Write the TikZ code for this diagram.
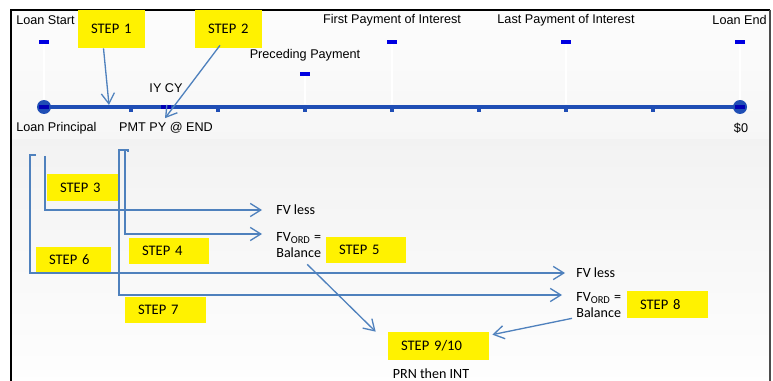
\documentclass[tikz,border=0pt]{standalone}
\usepackage{fontspec}
\setmainfont{Carlito}
\newfontfamily\axisfont{Liberation Sans}
\usepackage{xcolor}
\usetikzlibrary{arrows.meta, positioning, calc}
\definecolor{lineblue}{RGB}{31,78,181}
\definecolor{markblue}{RGB}{0,0,225}
\definecolor{arrowblue}{RGB}{79,129,189}

\begin{document}
\begin{tikzpicture}[x=0.02cm, y=-0.02cm,
  stepbox/.style={fill=yellow, inner xsep=0.26cm, inner ysep=0pt, align=left,
    font=\fontsize{8.3}{9}\selectfont},
  axislabel/.style={font=\axisfont\fontsize{7.2}{8}\selectfont, inner sep=0pt},
  plain/.style={font=\fontsize{8}{9.6}\selectfont, inner sep=0pt, align=left},
  flow/.style={arrowblue, line width=0.75pt, -{Straight Barb[length=6pt,width=7.5pt]}},
  tickmark/.style={markblue, line width=2pt},
  guide/.style={white, line width=0.6pt}]
  % frame and background
  \useasboundingbox (0,0) rectangle (773,381);
  \shade[top color=gray!2, bottom color=gray!7] (11,10) rectangle (770,140);
  \shade[top color=gray!10, bottom color=gray!1] (11,140) rectangle (770,381);
  \draw[black, line width=1.3pt] (11,381) -- (11,10) -- (770,10);
  \draw[gray!60!black, line width=0.9pt] (770,10) -- (770,381);

  % timeline
  \foreach \x in {44,392,566,740} \draw[guide] (\x,44) -- (\x,104);
  \draw[guide] (305,76) -- (305,104);
  \draw[lineblue, line width=2.8pt] (44,107) -- (740,107);
  \foreach \x in {131,218,...,653} \fill[lineblue] (\x-2,107) rectangle (\x+2,112);
  \fill[lineblue] (44,107) circle (0.14cm);
  \fill[lineblue] (740,107) circle (0.14cm);
  \foreach \x in {44,392,566,740} \draw[tickmark] (\x-5,42) -- (\x+5,42);
  \draw[tickmark] (300,74) -- (310,74);
  \foreach \x in {44,166,740} \draw[tickmark, markblue!80!black] (\x-5,107) -- (\x+5,107);

  % timeline labels
  \node[axislabel, anchor=west] (start) at (16,20) {Loan Start};
  \node[axislabel] (first) at (392,20) {First Payment of Interest};
  \node[axislabel] (last) at (566,20) {Last Payment of Interest};
  \node[axislabel, anchor=east] (end) at (767,20) {Loan End};
  \node[axislabel] (prec) at (305,55) {Preceding Payment};
  \node[axislabel] (iycy) at (166,88) {IY CY};
  \node[axislabel, anchor=west] (princ) at (16,128) {Loan Principal};
  \node[axislabel] (pmt) at (166,128) {PMT PY @ END};
  \node[axislabel] (zero) at (741,128) {\$0};

  % step boxes
  \node[stepbox, text width=0.82cm, minimum height=0.76cm] (s1) at (111.5,29) {STEP 1};
  \node[stepbox, text width=0.82cm, minimum height=0.76cm] (s2) at (228.5,29) {STEP 2};
  \node[stepbox, text width=0.94cm, minimum height=0.54cm] (s3) at (83.5,187.5) {STEP 3};
  \node[stepbox, text width=1.08cm, minimum height=0.52cm] (s4) at (169,251) {STEP 4};
  \node[stepbox, text width=1.08cm, minimum height=0.52cm] (s5) at (366,250) {STEP 5};
  \node[stepbox, text width=0.98cm, minimum height=0.52cm] (s6) at (73.5,260) {STEP 6};
  \node[stepbox, text width=1.10cm, minimum height=0.52cm] (s7) at (165.5,310) {STEP 7};
  \node[stepbox, text width=1.10cm, minimum height=0.54cm] (s8) at (667.5,304.5) {STEP 8};
  \node[stepbox, text width=1.50cm, minimum height=0.56cm] (s9) at (438.5,346) {STEP 9/10};

  % results
  \node[plain, anchor=west] (fvA) at (276,210) {FV less};
  \node[plain, anchor=west] (fvB) at (276,245) {FV\textsubscript{ORD} =\\Balance};
  \node[plain, anchor=west] (fvC) at (576,273) {FV less};
  \node[plain, anchor=west] (fvD) at (576,305) {FV\textsubscript{ORD} =\\Balance};
  \node[plain] (prn) at (431,374) {PRN then INT};

  % step 1 and 2 pointers
  \coordinate (hit1) at (109,105);
  \draw[flow] ([xshift=-0.16cm]s1.south) -- (hit1);
  \draw[flow] ([xshift=-0.17cm, yshift=0.06cm]s2.south) -- ([xshift=-0.02cm, yshift=0.08cm]pmt.north);

  % brackets
  \coordinate (b3) at (45,156);
  \coordinate (b6) at (36,155);
  \coordinate (b4) at (128,152);
  \coordinate (j4) at (125,150);
  \draw[flow] (b3) |- ([xshift=-0.28cm]fvA.west);
  \draw[flow] (b6) -- (30,155) |- ([xshift=-0.22cm]fvC.west);
  \draw[flow] (b4) -- (128,150) -- (j4) |- ([xshift=-0.28cm, yshift=0.22cm]fvB.west);
  \draw[flow] (j4) -- (119,150) |- ([xshift=-0.28cm, yshift=0.2cm]fvD.west);

  % to step 9/10
  \draw[flow] ([xshift=0.17cm, yshift=-0.12cm]fvB.south) -- ([xshift=-0.24cm]s9.north west);
  \draw[flow] ([xshift=-0.08cm]fvD.south west) -- ([xshift=0.06cm, yshift=-0.06cm]s9.north east);
\end{tikzpicture}
\end{document}
